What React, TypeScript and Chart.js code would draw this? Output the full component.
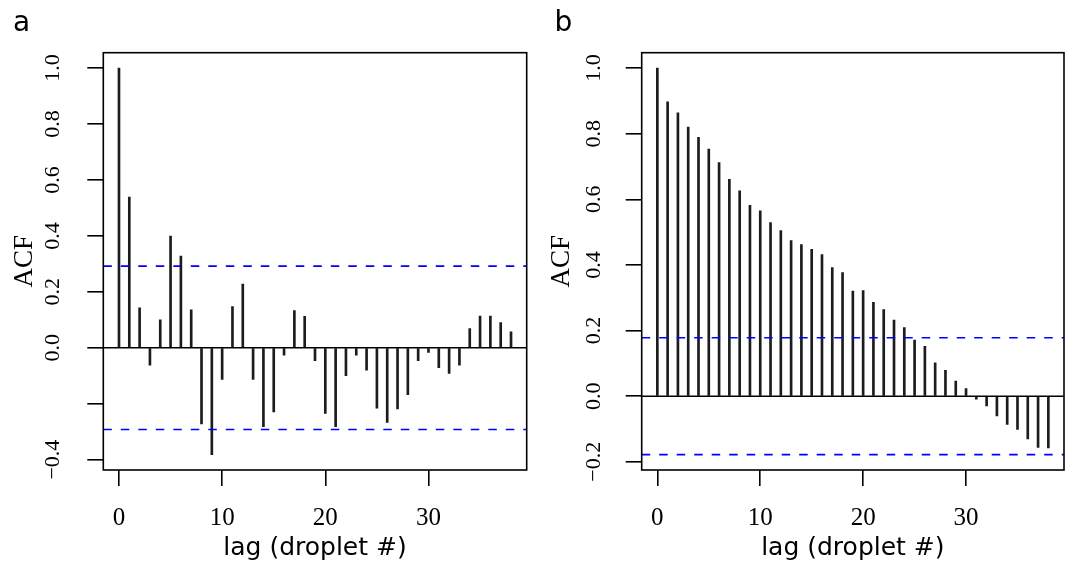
import React, { useEffect, useRef } from 'react';
import { Chart, registerables } from 'chart.js';

Chart.register(...registerables);

// ---------- data ----------
const lags = [0, 1, 2, 3, 4, 5, 6, 7, 8, 9, 10, 11, 12, 13, 14, 15, 16, 17, 18, 19, 20, 21, 22, 23, 24, 25, 26, 27, 28, 29, 30, 31, 32, 33, 34, 35, 36, 37, 38];

const acfA = [
  1.0, 0.539, 0.143, -0.062, 0.1, 0.399, 0.328, 0.136, -0.272, -0.382,
  -0.113, 0.147, 0.228, -0.113, -0.282, -0.229, -0.026, 0.133, 0.112, -0.046,
  -0.235, -0.282, -0.1, -0.026, -0.08, -0.216, -0.267, -0.219, -0.168, -0.046,
  -0.017, -0.071, -0.092, -0.062, 0.069, 0.113, 0.113, 0.09, 0.057,
];

const acfB = [
  1.0, 0.897, 0.864, 0.82, 0.789, 0.753, 0.712, 0.661, 0.626, 0.582,
  0.565, 0.529, 0.505, 0.474, 0.462, 0.448, 0.432, 0.392, 0.377, 0.32,
  0.322, 0.286, 0.264, 0.232, 0.209, 0.171, 0.152, 0.102, 0.079, 0.046,
  0.023, -0.009, -0.03, -0.06, -0.086, -0.101, -0.13, -0.156, -0.158,
];

const ciA = 0.292;
const ciB = 0.178;

const xRange = [-1.52, 39.52];
const yRangeA = [-0.437, 1.055];
const yRangeB = [-0.225, 1.047];

const xTicks = [0, 10, 20, 30];
const xTickLabels = ['0', '10', '20', '30'];

const yTicksA = [-0.4, -0.2, 0, 0.2, 0.4, 0.6, 0.8, 1.0];
const yTickLabelsA = ['\u22120.4', '', '0.0', '0.2', '0.4', '0.6', '0.8', '1.0'];
const yTicksB = [-0.2, 0, 0.2, 0.4, 0.6, 0.8, 1.0];
const yTickLabelsB = ['\u22120.2', '0.0', '0.2', '0.4', '0.6', '0.8', '1.0'];

const panelLabels = ['a', 'b'];
const xTitle = 'lag (droplet #)';
const yTitle = 'ACF';

// ---------- plugin: frame box ----------
const boxPlugin = {
  id: 'frameBox',
  afterDatasetsDraw(chart: any) {
    const { ctx, chartArea: a } = chart;
    ctx.save();
    ctx.strokeStyle = '#000';
    ctx.lineWidth = 1.6;
    ctx.strokeRect(a.left, a.top, a.right - a.left, a.bottom - a.top);
    ctx.restore();
  },
};

type PanelProps = {
  label: string;
  values: number[];
  ci: number;
  yRange: number[];
  yTicks: number[];
  yTickLabels: string[];
  left: number;
  width: number;
  padLeft: number;
  padRight: number;
  yAxisWidth: number;
  yTickPad: number;
  yTitlePad: number;
};

function Panel(p: PanelProps) {
  const ref = useRef<HTMLCanvasElement | null>(null);

  useEffect(() => {
    if (!ref.current) return;
    const serif = 'Liberation Serif';
    const sans = 'DejaVu Sans';
    const chart = new Chart(ref.current, {
      type: 'bar',
      data: {
        datasets: [
          {
            type: 'bar',
            data: lags.map((l, i) => ({ x: l, y: p.values[i] })),
            backgroundColor: '#1c1c1c',
            borderWidth: 0,
            barThickness: 2,
            order: 3,
          } as any,
          {
            type: 'line',
            data: [
              { x: xRange[0], y: 0 },
              { x: xRange[1], y: 0 },
            ],
            borderColor: '#000',
            borderWidth: 1.6,
            pointRadius: 0,
            order: 2,
          } as any,
          {
            type: 'line',
            data: [
              { x: xRange[0], y: p.ci },
              { x: xRange[1], y: p.ci },
            ],
            borderColor: '#0000ff',
            borderWidth: 1.6,
            borderDash: [8.5, 9],
            pointRadius: 0,
            order: 1,
          } as any,
          {
            type: 'line',
            data: [
              { x: xRange[0], y: -p.ci },
              { x: xRange[1], y: -p.ci },
            ],
            borderColor: '#0000ff',
            borderWidth: 1.6,
            borderDash: [8.5, 9],
            pointRadius: 0,
            order: 1,
          } as any,
        ],
      },
      options: {
        animation: false,
        responsive: false,
        devicePixelRatio: 1,
        events: [],
        layout: { padding: { left: p.padLeft, right: p.padRight, top: 0, bottom: 0 } },
        plugins: {
          legend: { display: false },
          tooltip: { enabled: false },
          title: {
            display: true,
            text: p.label,
            align: 'start',
            color: '#000',
            font: { family: sans, size: 28, weight: 'normal', lineHeight: 1.2 },
            padding: { top: 7.3, bottom: 11.8 },
          },
        },
        scales: {
          x: {
            type: 'linear',
            min: xRange[0],
            max: xRange[1],
            offset: false,
            afterBuildTicks: (scale: any) => {
              scale.ticks = xTicks.map((v) => ({ value: v }));
            },
            afterFit: (scale: any) => {
              scale.height = 92;
            },
            grid: {
              display: true,
              drawOnChartArea: false,
              drawTicks: true,
              tickLength: 16,
              color: '#000',
              lineWidth: 1.6,
              offset: false,
            },
            border: { display: false },
            ticks: {
              autoSkip: false,
              maxRotation: 0,
              minRotation: 0,
              padding: 17,
              color: '#000',
              font: { family: serif, size: 25 },
              callback: (_v: any, i: number) => xTickLabels[i],
            },
            title: {
              display: true,
              text: xTitle,
              color: '#000',
              font: { family: sans, size: 25, lineHeight: 1.2 },
              padding: { top: 0, bottom: -1.4 },
            },
          },
          y: {
            type: 'linear',
            min: p.yRange[0],
            max: p.yRange[1],
            afterBuildTicks: (scale: any) => {
              scale.ticks = p.yTicks.map((v) => ({ value: v }));
            },
            afterFit: (scale: any) => {
              scale.width = p.yAxisWidth;
            },
            grid: {
              display: true,
              drawOnChartArea: false,
              drawTicks: true,
              tickLength: 16,
              color: '#000',
              lineWidth: 1.6,
            },
            border: { display: false },
            ticks: {
              autoSkip: false,
              minRotation: 90,
              maxRotation: 90,
              crossAlign: 'center',
              padding: p.yTickPad,
              color: '#000',
              font: { family: serif, size: 22 },
              callback: (_v: any, i: number) => p.yTickLabels[i],
            },
            title: {
              display: true,
              text: yTitle,
              color: '#000',
              font: { family: serif, size: 27, lineHeight: 0.5 },
              padding: { top: p.yTitlePad, bottom: 0 },
            },
          },
        },
      } as any,
      plugins: [boxPlugin],
    });
    return () => chart.destroy();
  }, []);

  return (
    <canvas
      ref={ref}
      width={p.width}
      height={562}
      style={{ position: 'absolute', left: p.left, top: 0, width: p.width, height: 562 }}
    />
  );
}

export default function App() {
  return (
    <div
      style={{
        position: 'absolute',
        left: 0,
        top: 0,
        width: 1065,
        height: 562,
        background: '#fff',
        overflow: 'hidden',
      }}
    >
      <Panel
        label={panelLabels[0]}
        values={acfA}
        ci={ciA}
        yRange={yRangeA}
        yTicks={yTicksA}
        yTickLabels={yTickLabelsA}
        left={0}
        width={540}
        padLeft={13}
        padRight={13.3}
        yAxisWidth={90.3}
        yTickPad={14.3}
        yTitlePad={4.7}
      />
      <Panel
        label={panelLabels[1]}
        values={acfB}
        ci={ciB}
        yRange={yRangeB}
        yTicks={yTicksB}
        yTickLabels={yTickLabelsB}
        left={540}
        width={525}
        padLeft={14.5}
        padRight={1}
        yAxisWidth={87.2}
        yTickPad={12}
        yTitlePad={0.8}
      />
    </div>
  );
}
